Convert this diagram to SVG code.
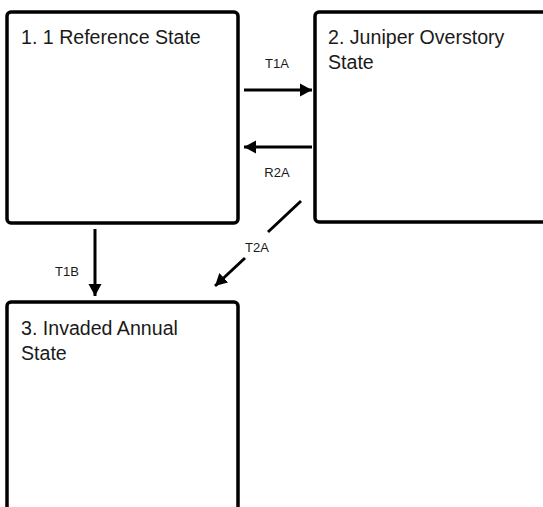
<svg xmlns="http://www.w3.org/2000/svg" width="543" height="507" viewBox="0 0 543 507">
<style>
.box{fill:#fff;stroke:#000;stroke-width:3.5}
.t{font-family:"Liberation Sans",Arial,sans-serif;font-size:19.6px;fill:#1a1a1a}
.l{font-family:"Liberation Sans",Arial,sans-serif;font-size:13px;fill:#1a1a1a;text-anchor:middle}
.c{stroke:#000;stroke-width:3;fill:none;marker-end:url(#ah)}
.c2{stroke:#000;stroke-width:3;fill:none}
</style>
<defs>
<marker id="ah" markerUnits="userSpaceOnUse" markerWidth="14" markerHeight="14" refX="12" refY="7" orient="auto">
<path d="M0,0.5 L12,7 L0,13.5 Z" fill="#000"/>
</marker>
</defs>
<rect width="543" height="507" fill="#fff"/>
<g id="node1">
<rect class="box" x="7" y="12" width="231" height="211" rx="4"/>
<text class="t" x="21" y="44">1. 1 Reference State</text>
</g>
<g id="node2">
<rect class="box" x="315" y="12" width="240" height="210" rx="4"/>
<text class="t" x="328" y="44">2. Juniper Overstory</text>
<text class="t" x="328" y="69">State</text>
</g>
<g id="node3">
<rect class="box" x="7" y="302" width="231" height="230" rx="4"/>
<text class="t" x="21" y="335">3. Invaded Annual</text>
<text class="t" x="21" y="360">State</text>
</g>
<g id="connectors">
<line class="c" x1="244" y1="90" x2="312" y2="90"/>
<text class="l" x="277" y="68">T1A</text>
<line class="c" x1="312" y1="147" x2="244" y2="147"/>
<text class="l" x="277" y="177">R2A</text>
<line class="c" x1="95" y1="229" x2="95" y2="296"/>
<text class="l" x="67" y="276">T1B</text>
<line class="c2" x1="301" y1="201" x2="268" y2="232"/>
<line class="c" x1="245" y1="258" x2="215" y2="286"/>
<text class="l" x="257" y="252">T2A</text>
</g>
</svg>
